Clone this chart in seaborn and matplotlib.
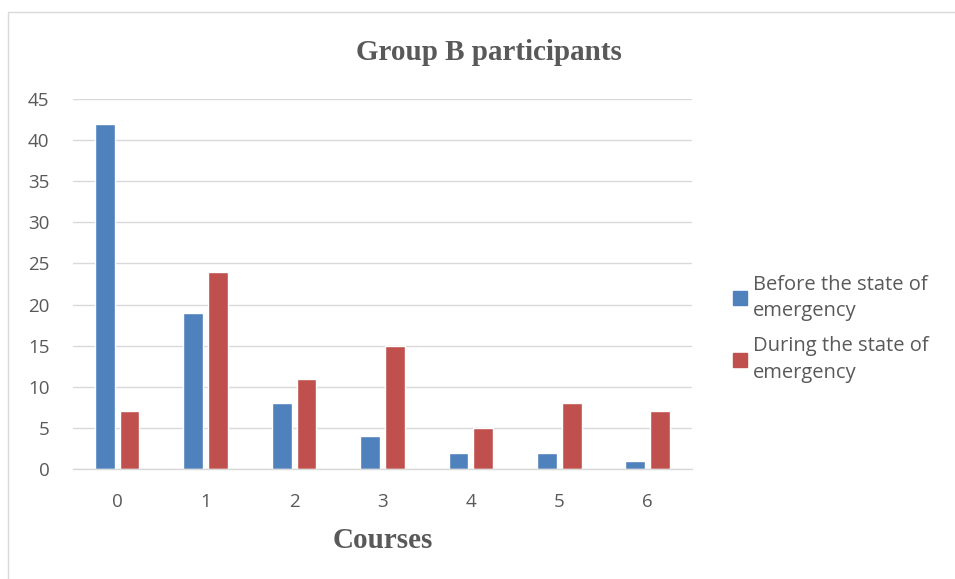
import pandas as pd
import matplotlib.pyplot as plt
import seaborn as sns
from matplotlib.patches import Rectangle

courses = ['0', '1', '2', '3', '4', '5', '6']
before = [42, 19, 8, 4, 2, 2, 1]
during = [7, 24, 11, 15, 5, 8, 7]
series_names = ['Before the state of\nemergency', 'During the state of\nemergency']
colors = ['#4F81BD', '#C0504D']

df = pd.DataFrame({
    'course': courses * 2,
    'count': before + during,
    'period': [series_names[0]] * len(courses) + [series_names[1]] * len(courses),
})

sns.set_style('white')
plt.rcParams['font.family'] = ['Open Sans', 'DejaVu Sans']
text_gray = '#595959'
grid_gray = '#D9D9D9'

fig = plt.figure(figsize=(9.55, 5.79), dpi=100)
ax = fig.add_axes([0.0764, 0.19, 0.6482, 0.639])

sns.barplot(data=df, x='course', y='count', hue='period', palette=colors,
            width=0.56, gap=0.2, ax=ax, legend=False, saturation=1)

ax.set_xlim(-0.5, 6.5)
ax.set_ylim(0, 45)
ax.set_yticks(range(0, 46, 5))
ax.yaxis.grid(True, color=grid_gray, linewidth=1)
ax.set_axisbelow(True)
for s in ['top', 'right', 'left']:
    ax.spines[s].set_visible(False)
ax.spines['bottom'].set_color(grid_gray)
ax.spines['bottom'].set_linewidth(1)
ax.tick_params(axis='both', length=0, labelsize=13.5, colors=text_gray)
ax.tick_params(axis='y', pad=17)
ax.tick_params(axis='x', pad=17)
ax.set_xlabel('')
ax.set_ylabel('')

# legend
handles = [Rectangle((0, 0), 1, 1, color=c) for c in colors]
leg = fig.legend(handles, series_names, loc='center left', bbox_to_anchor=(0.768, 0.432),
                 frameon=False, fontsize=14.5, labelcolor=text_gray, handlelength=0.68,
                 handleheight=0.68, handletextpad=0.3, labelspacing=0.75,
                 borderpad=0, borderaxespad=0)
for t in leg.get_texts():
    t.set_linespacing(1.45)

fig.text(0.512, 0.91, 'Group B participants', ha='center', va='center',
         family='Liberation Serif', fontweight='bold', fontsize=21, color=text_gray)
fig.text(0.401, 0.066, 'Courses', ha='center', va='center',
         family='Liberation Serif', fontweight='bold', fontsize=21, color=text_gray)

# chart border
fig.patches.append(Rectangle((8 / 955, -0.05), 1.1, 1 - 12 / 579 + 0.05,
                             transform=fig.transFigure, fill=False,
                             edgecolor=grid_gray, linewidth=1))

fig.savefig('out.png', dpi=100)
